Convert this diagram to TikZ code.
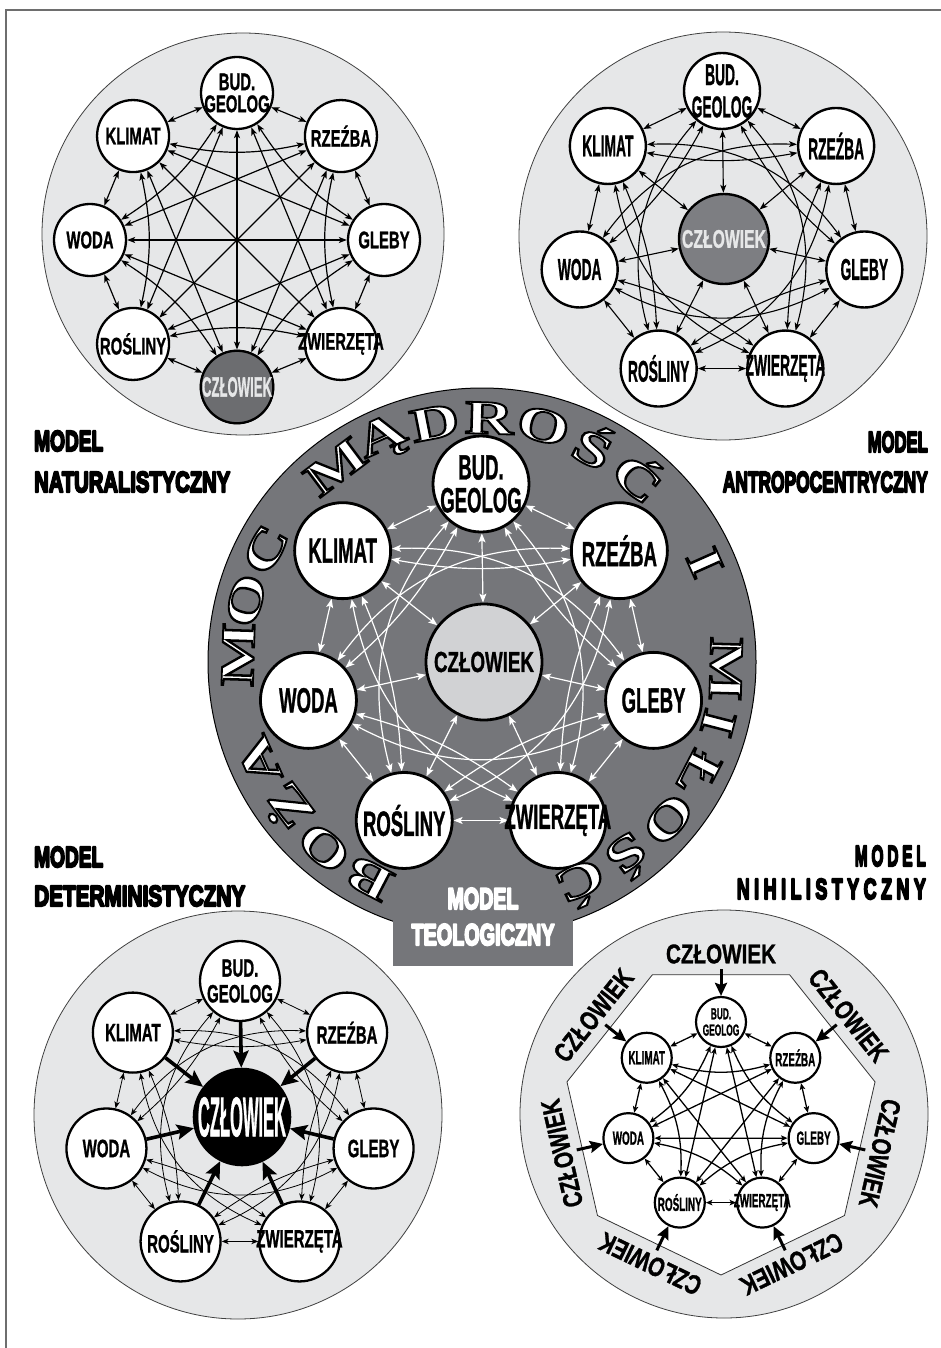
\documentclass[tikz,border=0pt]{standalone}
\usepackage{fontspec}
\setmainfont{Liberation Sans}
\newfontfamily\hv[FakeBold=1.3]{Liberation Sans Bold}
\newfontfamily\hb{Liberation Sans Bold}
\newfontfamily\srf{Liberation Serif Bold}
\usepackage{graphicx}
\usetikzlibrary{arrows.meta,calc}
\pgfdeclarelayer{back}
\pgfdeclarelayer{mid}
\pgfsetlayers{back,mid,main}
\definecolor{lightc}{RGB}{230,231,232}
\definecolor{darkc}{RGB}{117,118,122}
\definecolor{czl}{RGB}{209,210,212}
\definecolor{czd}{RGB}{108,109,112}
\definecolor{czm}{RGB}{125,126,130}
\definecolor{framec}{RGB}{110,110,110}
\newcommand\sq[1]{\makebox[0pt]{\scalebox{\sqf}[1]{#1}}}
\def\sqf{0.6}
\newcommand\ls{\kern0.25em}
\newcommand\olt[1]{\special{pdf:literal direct 2 Tr 1.8 w 0 G 1 g}#1\special{pdf:literal direct 0 Tr}}
\newcommand\thk[2]{\special{pdf:literal direct 2 Tr 2.2 w 1 j #1 G #1 g}#2\special{pdf:literal direct 0 Tr 0 j}}
\newcommand\ring[5]{%
  \foreach \lab [count=\k from 0] in {#5}{%
    \node[#4] (#1\k) at ({90+\k*360/#3}:#2) {\sq{\lab}};}}
\newcommand\links[6]{%
  \pgfmathtruncatemacro\lkA{#2-2}%
  \pgfmathtruncatemacro\lkB{#2-1}%
  \foreach \i in {0,...,\lkA}{%
    \pgfmathtruncatemacro\ii{\i+1}%
    \foreach \j in {\ii,...,\lkB}{%
      \pgfmathtruncatemacro\kk{\j-\i}%
      \pgfmathtruncatemacro\dd{min(\kk,#2-\kk)}%
      \pgfmathtruncatemacro\sg{(2*\kk<=#2)?1:-1}%
      \ifcase\dd\def\bb{0}\or\def\bb{0}\or\def\bb{#3}\or\def\bb{#4}\else\def\bb{#5}\fi
      \pgfmathsetmacro\ang{\sg*\bb}%
      \draw[#6] (#1\i) to[bend left=\ang] (#1\j);
    }}}
\tikzset{
 outer/.style={fill=lightc, draw=black!75, line width=0.8pt},
 nd/.style={circle, draw=black, fill=white, inner sep=0pt, line width=#1},
 ndA/.style={nd=2.3pt, minimum size=72pt, font=\hv\fontsize{24}{20}\selectfont},
 ndB/.style={nd=2.4pt, minimum size=76pt, font=\hv\fontsize{30}{26}\selectfont},
 ndC/.style={nd=2.8pt, minimum size=96pt, font=\hv\fontsize{35}{29}\selectfont},
 ndD/.style={nd=2.3pt, minimum size=80pt, font=\hv\fontsize{25}{22}\selectfont},
 ndE/.style={nd=2.2pt, minimum size=50pt, font=\hv\fontsize{19}{16}\selectfont},
 lkA/.style={<->, line width=1.2pt, >={Stealth[length=8pt,width=6pt,inset=2pt]}},
 lkB/.style={<->, line width=1.1pt, >={Stealth[length=8pt,width=6pt,inset=2pt]}},
 lkC/.style={<->, draw=white, line width=1.2pt, >={Stealth[length=9pt,width=7pt,inset=2pt]}},
 lkD/.style={<->, line width=0.8pt, >={Stealth[length=7pt,width=5.5pt,inset=2pt]}},
 lkE/.style={<->, line width=1.3pt, >={Stealth[length=6.5pt,width=5.5pt,inset=1.5pt]}},
 spD/.style={-{Stealth[length=17pt,width=15pt,inset=3pt]}, line width=3.6pt},
 spE/.style={-{Stealth[length=13pt,width=12pt,inset=2pt]}, line width=3pt},
 hd/.style={inner sep=0pt, font=\hb\fontsize{29}{29}\selectfont},
 letter/.style={inner sep=0pt, font=\srf\fontsize{48}{48}\selectfont},
}
\begin{document}
\begin{tikzpicture}[x=1pt,y=1pt]
\useasboundingbox (0,0) rectangle (941,-1348);

% ---------- background shapes
\begin{pgfonlayer}{back}
 \fill[white] (0,0) rectangle (941,-1348);
 \draw[framec, line width=1.3pt] (6,-1360) -- (6,-10) -- (960,-10);
 \draw[outer] (243,-234) circle[radius=201];
 \draw[outer] (723,-236) circle[radius=204];
 \draw[outer] (238,-1115) circle[radius=204];
 \draw[outer] (724,-1114) circle[radius=204];
 \draw[fill=white, draw=black!80, line width=0.8pt] ($(721,-1117)+(270:158)$)
   \foreach \k in {1,...,6}{ -- ($(721,-1117)+({270+\k*360/7}:158)$)} -- cycle;
 \draw[fill=darkc, draw=black, line width=1pt] (482,-662) circle[radius=274];
 \fill[darkc] (393,-880) rectangle (573,-966);
\end{pgfonlayer}

% ---------- Model A (naturalistyczny)
\begin{scope}[shift={(237,-240)}]
 \def\sqf{0.62}
 \ring{A}{147}{8}{ndA}{{\shortstack{BUD.\\[2pt]GEOLOG}},KLIMAT,WODA,ROŚLINY,{},ZWIERZĘTA,GLEBY,RZEŹBA}
 \node[ndA, fill=czd, text=lightc, font=\hv\fontsize{28}{28}\selectfont] (A4) at (270:147) {\resizebox{70pt}{\height}{CZŁOWIEK}};
\end{scope}
\begin{pgfonlayer}{mid}
 \links{A}{8}{12}{0}{0}{lkA}
\end{pgfonlayer}

% ---------- Model B (antropocentryczny)
\begin{scope}[shift={(722,-237)}]
 \def\sqf{0.46}
 \ring{B}{146}{7}{ndB}{{\shortstack{BUD.\\[8pt]GEOLOG}},KLIMAT,WODA,ROŚLINY,ZWIERZĘTA,GLEBY,RZEŹBA}
 \node[ndB, minimum size=90pt, fill=czm, text=lightc, font=\hv\fontsize{25.5}{25}\selectfont] (B7) at (2,-2) {\resizebox{84pt}{\height}{CZŁOWIEK}};
\end{scope}
\begin{pgfonlayer}{mid}
 \links{B}{7}{10}{-28}{0}{lkB}
 \foreach \k in {0,...,6}{\draw[lkB] (B7) -- (B\k);}
\end{pgfonlayer}

% ---------- Model C (teologiczny)
\begin{scope}[shift={(481,-661)}]
 \def\sqf{0.53}
 \ring{C}{177}{7}{ndC}{{\shortstack{BUD.\\[5pt]GEOLOG}},KLIMAT,WODA,ROŚLINY,ZWIERZĘTA,GLEBY,RZEŹBA}
 \node[ndC, minimum size=116pt, fill=czl, font=\hv\fontsize{29}{29}\selectfont] (C7) at (3,-1) {\resizebox{100pt}{\height}{CZŁOWIEK}};
\end{scope}
\begin{pgfonlayer}{mid}
 \links{C}{7}{10}{-28}{0}{lkC}
 \foreach \k in {0,...,6}{\draw[lkC] (C7) -- (C\k);}
\end{pgfonlayer}
\begin{scope}[shift={(482,-662)}]
 \foreach \L [count=\i from 0] in {B,O,Ż,A,,M,O,C,,M,Ą,D,R,O,Ś,Ć,,I,,M,I,Ł,O,Ś,Ć}{%
   \pgfmathsetmacro\a{242.5-\i*12.85}%
   \node[letter, text=white, rotate=\a-90] (Z\i) at (\a:244) {\scalebox{1.4}[1]{\olt{\L}}};
 }
\end{scope}
\node[inner sep=0pt, anchor=base, text=white, font=\hb\fontsize{30}{30}\selectfont] (tm1) at (483,-909) {\resizebox{71pt}{\height}{\thk{1}{MODEL}}};
\node[inner sep=0pt, anchor=base, text=white, font=\hb\fontsize{30}{30}\selectfont] (tm2) at (483,-945) {\resizebox{143pt}{\height}{\thk{1}{TEOLOGICZNY}}};

% ---------- Model D (deterministyczny)
\begin{scope}[shift={(240,-1118)}]
 \def\sqf{0.6}
 \ring{D}{137}{7}{ndD}{{\shortstack{BUD.\\[5pt]GEOLOG}},KLIMAT,WODA,ROŚLINY,ZWIERZĘTA,GLEBY,RZEŹBA}
 \node[ndD, minimum size=95pt, fill=black, text=white, font=\hv\fontsize{56}{56}\selectfont] (D7) at (2,1) {\resizebox{88pt}{\height}{CZŁOWIEK}};
\end{scope}
\begin{pgfonlayer}{mid}
 \links{D}{7}{10}{-28}{0}{lkD}
\end{pgfonlayer}
\foreach \k in {0,...,6}{\draw[spD] (D\k) -- (D7);}

% ---------- Model E (nihilistyczny)
\begin{scope}[shift={(721,-1117)}]
 \def\sqf{0.52}
 \ring{E}{95}{7}{ndE}{{\fontsize{16}{14}\selectfont\shortstack{BUD.\\[2pt]GEOLOG}},KLIMAT,WODA,ROŚLINY,ZWIERZĘTA,GLEBY,RZEŹBA}
 \foreach \k in {0,...,6}{%
   \pgfmathsetmacro\a{90+\k*360/7}%
   \node[inner sep=0pt, rotate=\a-90, font=\hv\fontsize{27}{27}\selectfont] (EL\k) at (\a:163) {\resizebox{110pt}{\height}{CZŁOWIEK}};
   \coordinate (EA\k) at (\a:148);
 }
\end{scope}
\begin{pgfonlayer}{mid}
 \links{E}{7}{15}{0}{0}{lkE}
\end{pgfonlayer}
\foreach \k in {0,...,6}{\draw[spE] (EA\k) -- (E\k);}

% ---------- headings
\node[hd, anchor=base west] (hA1) at (34,-451) {\resizebox{69pt}{\height}{\thk{0}{MODEL}}};
\node[hd, anchor=base west] (hA2) at (34,-492) {\resizebox{196pt}{\height}{\thk{0}{NATURALISTYCZNY}}};
\node[hd, anchor=base east] (hB1) at (928,-452) {\resizebox{60pt}{\height}{\thk{0}{MODEL}}};
\node[hd, anchor=base east] (hB2) at (928,-492) {\resizebox{205pt}{\height}{\thk{0}{ANTROPOCENTRYCZNY}}};
\node[hd, anchor=base west] (hD1) at (34,-867) {\resizebox{69pt}{\height}{\thk{0}{MODEL}}};
\node[hd, anchor=base west] (hD2) at (34,-906) {\resizebox{211pt}{\height}{\thk{0}{DETERMINISTYCZNY}}};
\node[hd, anchor=base east] (hE1) at (926,-866) {\resizebox{71pt}{\height}{\thk{0}{M\ls O\ls D\ls E\ls L}}};
\node[hd, anchor=base east] (hE2) at (926,-899) {\resizebox{189pt}{\height}{\thk{0}{N\ls I\ls H\ls I\ls L\ls I\ls S\ls T\ls Y\ls C\ls Z\ls N\ls Y}}};
\end{tikzpicture}
\end{document}
